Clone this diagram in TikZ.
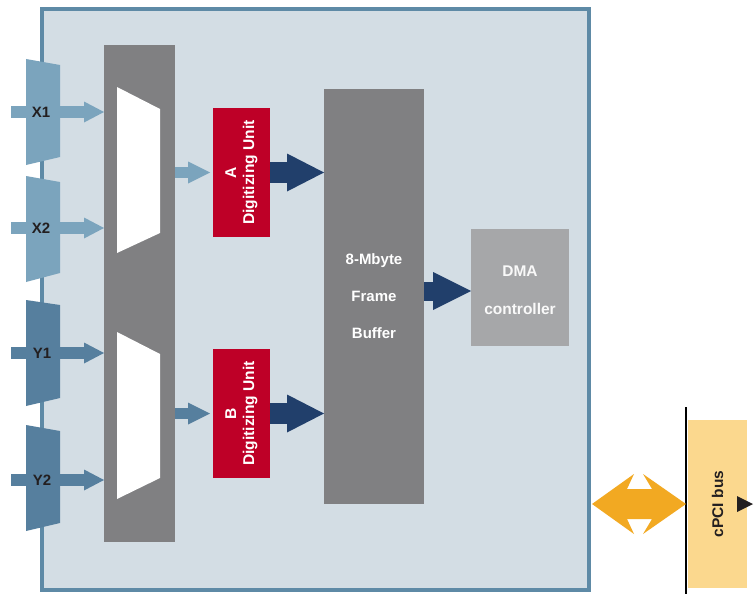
\documentclass[tikz,border=0pt]{standalone}
\usepackage{fontspec}
\setmainfont{Liberation Sans}
\usetikzlibrary{arrows.meta}
\definecolor{framebg}{HTML}{D3DDE4}
\definecolor{frameln}{HTML}{5E8AA6}
\definecolor{xcol}{HTML}{7BA4BD}
\definecolor{ycol}{HTML}{567F9E}
\definecolor{muxgray}{HTML}{808082}
\definecolor{dured}{HTML}{BE0027}
\definecolor{navy}{HTML}{213F6B}
\definecolor{dmagray}{HTML}{A6A7A9}
\definecolor{busyel}{HTML}{FBD88E}
\definecolor{orng}{HTML}{F2A922}
\definecolor{lbl}{HTML}{231F20}
\begin{document}
\begin{tikzpicture}[x=1pt,y=-1pt,
  every node/.style={font=\fontsize{15}{18}\selectfont\bfseries, inner sep=0pt, outer sep=0pt},
  inlabel/.style={text=lbl},
  dubox/.style={fill=dured, text=white, minimum width=57pt, minimum height=129pt,
    font=\fontsize{15.6}{18}\selectfont\bfseries},
  xarrow/.style={xcol, line width=12pt, -{Triangle[length=20pt,width=21pt,line width=0pt]}},
  yarrow/.style={ycol, line width=12pt, -{Triangle[length=20pt,width=21pt,line width=0pt]}},
  muxarrow/.style={line width=11pt, -{Triangle[length=22pt,width=22pt,line width=0pt]}, shorten >=3pt},
  navyarrow/.style={navy, line width=21pt, -{Triangle[length=37pt,width=38pt,line width=0pt]}}
]
\useasboundingbox (0,0) rectangle (755,594);
\fill[white] (0,0) rectangle (755,594);
% main frame
\draw[line width=4pt, frameln, fill=framebg] (42,9) rectangle (589,590);

% mux panel
\node[fill=muxgray, minimum width=71pt, minimum height=497pt] (mux) at (139.5,293.5) {};

% input trapezoids
\fill[xcol] (26,59) -- (60,65) -- (60,157) -- (26,165) -- cycle;
\fill[xcol] (26,176) -- (60,182) -- (60,273) -- (26,282) -- cycle;
\fill[ycol] (26,300) -- (60,305) -- (60,398) -- (26,406) -- cycle;
\fill[ycol] (26,425) -- (60,431) -- (60,523) -- (26,531) -- cycle;

\coordinate (x1s) at (11,112);
\coordinate (x2s) at (11,228);
\coordinate (y1s) at (11,353);
\coordinate (y2s) at (11,480);
\draw[xarrow] (x1s) -- (mux.west |- x1s);
\draw[xarrow] (x2s) -- (mux.west |- x2s);
\draw[yarrow] (y1s) -- (mux.west |- y1s);
\draw[yarrow] (y2s) -- (mux.west |- y2s);
\node[inlabel] (x1) at (41,112) {X1};
\node[inlabel] (x2) at (41,228) {X2};
\node[inlabel] (y1) at (42,353) {Y1};
\node[inlabel] (y2) at (42,480) {Y2};

% white mux trapezoids
\fill[white] (117,87) -- (160,109) -- (160,233) -- (117,253) -- cycle;
\fill[white] (117,332) -- (160,354) -- (160,478) -- (117,499) -- cycle;

% digitizing units
\node[dubox] (duA) at (241.5,172.5)
  {\rotatebox{90}{\begin{tabular}{@{}c@{}}A\\Digitizing Unit\end{tabular}}};
\node[dubox] (duB) at (241.5,413.5)
  {\rotatebox{90}{\begin{tabular}{@{}c@{}}B\\Digitizing Unit\end{tabular}}};

\draw[muxarrow, xcol] (mux.east |- duA) -- (duA.west);
\draw[muxarrow, ycol] (mux.east |- duB) -- (duB.west);

% frame buffer
\node[fill=muxgray, text=white, minimum width=100pt, minimum height=415pt, align=center,
  font=\fontsize{15}{37}\selectfont\bfseries] (fb) at (374,296.5) {8-Mbyte\\Frame\\Buffer};

\draw[navyarrow] (duA.east) -- (fb.west |- duA);
\draw[navyarrow] (duB.east) -- (fb.west |- duB);

% DMA controller
\node[fill=dmagray, minimum width=98pt, minimum height=117pt] (dma) at (520,287.5) {};
\node[text=white!95!gray, align=center, font=\fontsize{15.5}{38}\selectfont\bfseries]
  (dmatext) at (520,290.5) {DMA\\controller};

\draw[navy, line width=19pt, -{Triangle[length=38pt,width=38pt,line width=0pt]}]
  ([yshift=-3.5pt]fb.east |- dma.west) -- ([yshift=-3.5pt]dma.west);

% cPCI bus
\node[fill=busyel, text=lbl, minimum width=59pt, minimum height=168pt,
  font=\fontsize{15.5}{18}\selectfont\bfseries] (bus) at (717.5,504)
  {\rotatebox{90}{cPCI bus}};
\coordinate (bustop) at (686,407);
\coordinate (busbot) at (686,594);
\draw[line width=1.6pt, black] (bustop) -- (busbot);
\fill[lbl] (737,496) -- (753,504) -- (737,512) -- cycle;

% orange double arrow
\fill[orng] (592,504) -- (634,474) -- (627,489) -- (652,489) -- (643,474) -- (686,504)
  -- (643,534) -- (652,519) -- (627,519) -- (634,534) -- cycle;
\end{tikzpicture}
\end{document}
